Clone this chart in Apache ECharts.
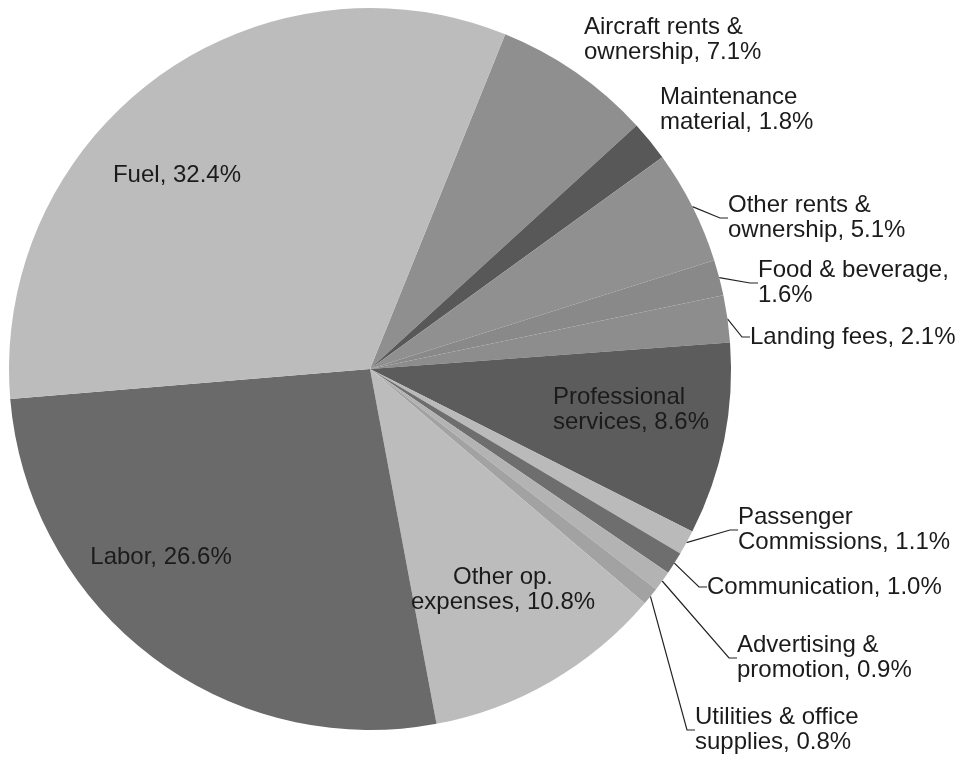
<!DOCTYPE html>
<html>
<head>
<meta charset="utf-8">
<script src="https://cdn.jsdelivr.net/npm/echarts@6/dist/echarts.min.js"></script>
<style>
  html, body { margin: 0; background: #fff; }
  #main { width: 964px; height: 760px; }
</style>
</head>
<body>
<div id="main"></div>
<script>
// slices in clockwise order, starting at the top-right edge of "Fuel"
const categories = [
  'Aircraft rents &\nownership',
  'Maintenance\nmaterial',
  'Other rents &\nownership',
  'Food & beverage',
  'Landing fees',
  'Professional\nservices',
  'Passenger\nCommissions',
  'Communication',
  'Advertising &\npromotion',
  'Utilities & office\nsupplies',
  'Other op.\nexpenses',
  'Labor',
  'Fuel'
];
const shares = [7.1, 1.8, 5.1, 1.6, 2.1, 8.6, 1.1, 1.0, 0.9, 0.8, 10.8, 26.6, 32.4];

const colors = ['#8f8f8f', '#585858', '#909090', '#898989', '#8d8d8d', '#5c5c5c',
  '#bababa', '#6e6e6e', '#b3b3b3', '#a2a2a2', '#bcbcbc', '#6a6a6a', '#bcbcbc'];

// label placement: [x, y, align, leader line]
const labelSpots = [
  [584, 40, 'left', false],
  [660, 110, 'left', false],
  [728, 218, 'left', true],
  [758, 283, 'left', true],
  [750, 337, 'left', true],
  [553, 410, 'left', false],
  [738, 530, 'left', true],
  [707, 587, 'left', true],
  [737, 658, 'left', true],
  [695, 730, 'left', true],
  [503, 590, 'center', false],
  [161, 557, 'center', false],
  [177, 175, 'center', false]
];

const chart = echarts.init(document.getElementById('main'), null, { renderer: 'canvas' });

const option = {
  animation: false,
  backgroundColor: '#fff',
  series: [{
    type: 'pie',
    center: [370, 369],
    radius: 361,
    startAngle: 68,
    clockwise: true,
    avoidLabelOverlap: false,
    itemStyle: { borderWidth: 0 },
    label: {
      show: true,
      position: 'outside',
      color: '#1b1b1b',
      fontFamily: 'Liberation Sans, Arial, sans-serif',
      fontSize: 24,
      lineHeight: 25,
      formatter: function (p) {
        const sep = p.name === 'Food & beverage' ? ',\n' : ', ';
        return p.name + sep + p.value.toFixed(1) + '%';
      }
    },
    labelLine: {
      show: true,
      length: 10,
      length2: 8,
      lineStyle: { color: '#222', width: 1.2 }
    },
    labelLayout: function (p) {
      const s = labelSpots[p.dataIndex];
      return { x: s[0], y: s[1], align: s[2], verticalAlign: 'middle' };
    },
    emphasis: { disabled: true },
    data: categories.map(function (name, i) {
      return {
        name: name,
        value: shares[i],
        itemStyle: { color: colors[i] },
        labelLine: { show: labelSpots[i][3] }
      };
    })
  }]
};

chart.setOption(option);
</script>
</body>
</html>
